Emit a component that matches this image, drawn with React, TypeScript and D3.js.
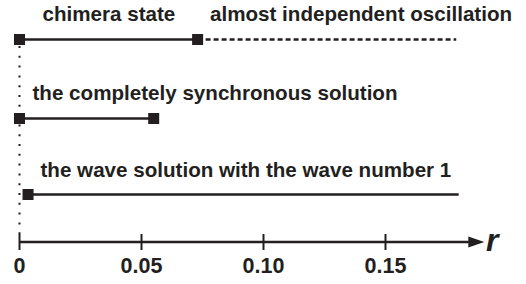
import React from 'react';
import { scaleLinear, scaleOrdinal } from 'd3';

// regimes: where each one exists along r
const ROWS = ['chimera', 'sync', 'wave'];
const SOLID_FROM = [0, 0, 0.0035];
const SOLID_TO = [0.073, 0.055, 0.18];
const DASH_TO = [0.179, null, null];
const MARKERS = [[0, 0.073], [0, 0.055], [0.0035]];

const TICKS = [0, 0.05, 0.1, 0.15];
const TICK_LABELS = ['0', '0.05', '0.10', '0.15'];
const AXIS_END = 0.1905;

const INK = '#231f20';

export default function App() {
  const width = 526;
  const height = 284;
  const x = scaleLinear().domain([0, 0.15]).range([19.5, 385.5]);
  const y = scaleOrdinal<string, number>().domain(ROWS).range([39.5, 118.5, 194.5]);
  const axisY = 242;
  const sq = 11;
  const font = { fontFamily: '"Liberation Sans", Arial, sans-serif', fontWeight: 'bold' as const, fill: INK };

  return (
    <svg width={width} height={height} style={{ position: 'absolute', left: 0, top: 0 }}>
      <rect width={width} height={height} fill="#fff" />

      {/* dotted guide at r = 0 */}
      <line x1={x(0)} x2={x(0)} y1={46} y2={axisY - 3} stroke={INK} strokeWidth={2} strokeDasharray="2,7.8" />

      {ROWS.map((r, i) => (
        <g key={r}>
          <line x1={x(SOLID_FROM[i])} x2={x(SOLID_TO[i])} y1={y(r)} y2={y(r)} stroke={INK} strokeWidth={2.4} />
          {DASH_TO[i] != null && (
            <line x1={x(SOLID_TO[i])} x2={x(DASH_TO[i] as number)} y1={y(r)} y2={y(r)} stroke={INK} strokeWidth={2.3} strokeDasharray="5,3" />
          )}
          {MARKERS[i].map(m => (
            <rect key={m} x={x(m) - sq / 2} y={y(r) - sq / 2} width={sq} height={sq} fill={INK} />
          ))}
        </g>
      ))}

      <g style={font} fontSize={20.6}>
        <text x={42.5} y={21}>chimera state</text>
        <text x={210} y={21}>almost independent oscillation</text>
        <text x={32.5} y={99.5}>the completely synchronous solution</text>
        <text x={40.5} y={177}>the wave solution with the wave number 1</text>
      </g>

      {/* r axis */}
      <line x1={x(0)} x2={x(AXIS_END) - 14} y1={axisY} y2={axisY} stroke={INK} strokeWidth={2.4} />
      <path d={`M${x(AXIS_END)},${axisY} L${x(AXIS_END) - 16},${axisY - 5.5} L${x(AXIS_END) - 16},${axisY + 5.5} Z`} fill={INK} />
      {TICKS.map((t, i) => (
        <g key={t}>
          <line x1={x(t)} x2={x(t)} y1={axisY - 8} y2={axisY + 8} stroke={INK} strokeWidth={2} />
          <text x={x(t)} y={273} textAnchor="middle" fontSize={21.5} style={font}>{TICK_LABELS[i]}</text>
        </g>
      ))}
      <text x={486} y={251} fontSize={32} fontStyle="italic" style={font}>r</text>
    </svg>
  );
}
